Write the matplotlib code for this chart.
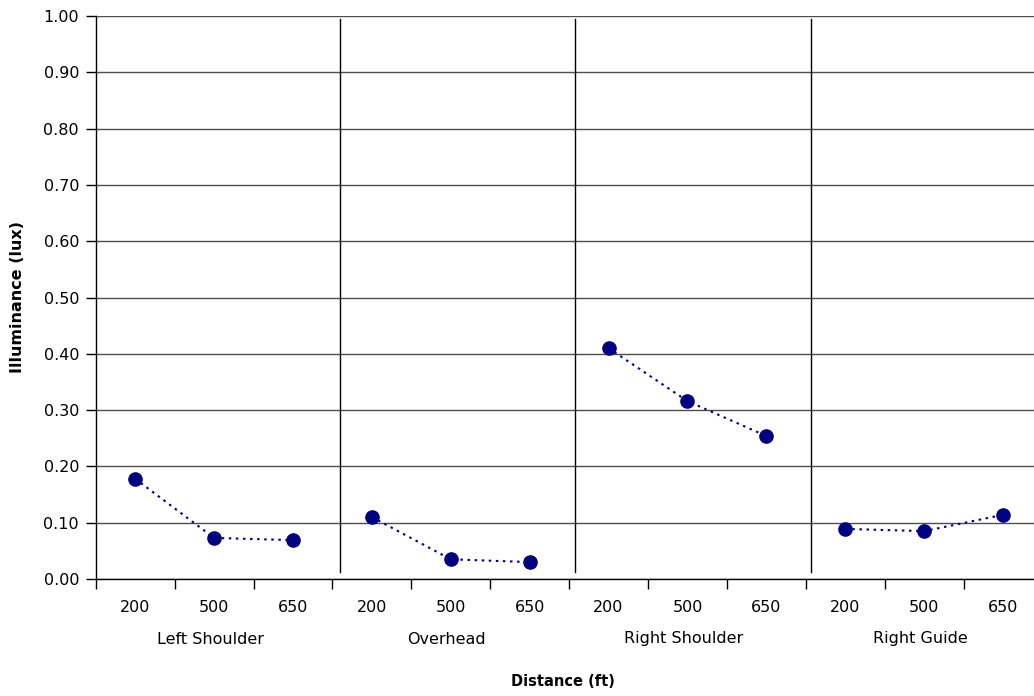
import matplotlib
matplotlib.use("Agg")
import matplotlib.pyplot as plt
from matplotlib.transforms import blended_transform_factory

plt.rcParams['font.family'] = ['DejaVu Sans']

groups = ["Left Shoulder", "Overhead", "Right Shoulder", "Right Guide"]
distances = ["200", "500", "650"]
left_shoulder = [0.178, 0.073, 0.069]
overhead = [0.110, 0.035, 0.030]
right_shoulder = [0.410, 0.316, 0.254]
right_guide = [0.089, 0.085, 0.114]
series = [left_shoulder, overhead, right_shoulder, right_guide]
y_ticks = [0.0, 0.1, 0.2, 0.3, 0.4, 0.5, 0.6, 0.7, 0.8, 0.9, 1.0]

W, H = 1034, 696
fig = plt.figure(figsize=(W / 100, H / 100), dpi=100)
left_px, right_px, top_px, bot_px = 95.7, 1042.5, 16, 579
ax = fig.add_axes([left_px / W, 1 - bot_px / H, (right_px - left_px) / W, (bot_px - top_px) / H])

n = len(distances)
for g, vals in enumerate(series):
    xs = [g * n + i for i in range(n)]
    ax.plot(xs, vals, linestyle=(0, (1.2, 2.2)), color="#000080", linewidth=1.5, zorder=3)
    ax.plot(xs, vals, linestyle="none", marker="o", markersize=9.5,
            color="#000080", zorder=4)

ax.set_xlim(-0.5, len(groups) * n - 0.5)
ax.set_ylim(0, 1.0)
ax.set_yticks(y_ticks)
ax.set_yticklabels([f"{v:.2f}" for v in y_ticks], fontsize=11.5)
ax.yaxis.grid(True, color="#4d4d4d", linewidth=1.0)
ax.set_axisbelow(True)
ax.tick_params(axis="y", direction="out", length=7, width=1, pad=5, color="black")

# category boundaries carry the ticks; labels sit at category centres
ax.set_xticks([i - 0.5 for i in range(len(groups) * n + 1)])
ax.set_xticklabels([])
ax.tick_params(axis="x", direction="out", length=7, width=1, color="black")

trans = blended_transform_factory(ax.transData, fig.transFigure)
for g, name in enumerate(groups):
    for i, d in enumerate(distances):
        ax.text(g * n + i, 1 - 608 / H, d, transform=trans, ha="center",
                va="center", fontsize=11.5)
    ax.text(g * n + 1 - 0.05, 1 - 639 / H, name, transform=trans, ha="center",
            va="center", fontsize=11.5)

# group separators
for g in range(1, len(groups)):
    xsep = g * n - 0.5 + 0.1 - 0.01 * g
    ax.plot([xsep, xsep], [0.012, 0.995], color="black", linewidth=1.0, zorder=2)

for s in ["top", "right"]:
    ax.spines[s].set_visible(False)
for s in ["left", "bottom"]:
    ax.spines[s].set_color("black")
    ax.spines[s].set_linewidth(1.0)

fig.text(563 / W, 1 - 682 / H, "Distance (ft)", ha="center", va="center",
         fontsize=10.5, fontweight="bold")
fig.text(18 / W, 1 - 297 / H, "Illuminance (lux)", ha="center", va="center",
         rotation=90, fontsize=11.5, fontweight="bold")

fig.savefig("out.png", dpi=100, facecolor="white")
